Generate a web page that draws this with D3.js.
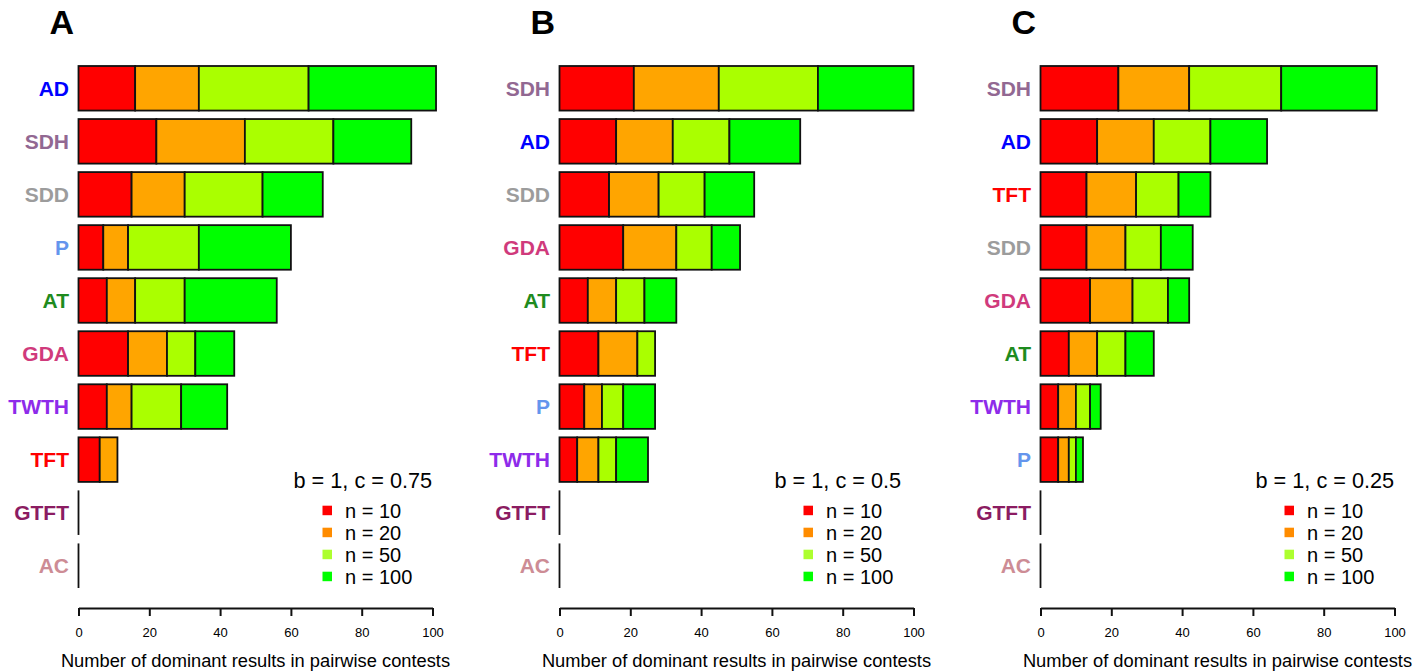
<!DOCTYPE html>
<html>
<head>
<meta charset="utf-8">
<script src="https://d3js.org/d3.v7.min.js"></script>
<style>
	body{margin:0;background:#fff;}
	text{font-family:"Liberation Sans",Arial,sans-serif;}
</style>
</head>
<body>
<script>
// series order inside each stacked bar
const seriesNames = ["n = 10","n = 20","n = 50","n = 100"];
const barColors = ["#ff0000","#ffa500","#aaff00","#00ff00"];
const legendColors = ["#ff0000","#ff8c00","#adff2f","#00ff00"];

const panelLetters = ["A","B","C"];
const panelParams = ["b = 1, c = 0.75","b = 1, c = 0.5","b = 1, c = 0.25"];
const xTicks = [0,20,40,60,80,100];

// panel A (c = 0.75)
const catsA = ["AD","SDH","SDD","P","AT","GDA","TWTH","TFT","GTFT","AC"];
const n10A  = [16,22,15,7,8,14,8,6,0,0];
const n20A  = [18,25,15,7,8,11,7,5,0,0];
const n50A  = [31,25,22,20,14,8,14,0,0,0];
const n100A = [36,22,17,26,26,11,13,0,0,0];

// panel B (c = 0.5)
const catsB = ["SDH","AD","SDD","GDA","AT","TFT","P","TWTH","GTFT","AC"];
const n10B  = [21,16,14,18,8,11,7,5,0,0];
const n20B  = [24,16,14,15,8,11,5,6,0,0];
const n50B  = [28,16,13,10,8,5,6,5,0,0];
const n100B = [27,20,14,8,9,0,9,9,0,0];

// panel C (c = 0.25)
const catsC = ["SDH","AD","TFT","SDD","GDA","AT","TWTH","P","GTFT","AC"];
const n10C  = [22,16,13,13,14,8,5,5,0,0];
const n20C  = [20,16,14,11,12,8,5,3,0,0];
const n50C  = [26,16,12,10,10,8,4,2,0,0];
const n100C = [27,16,9,9,6,8,3,2,0,0];

// label colour for every strategy
const labelColor = {
	AD:"#0000ff", SDH:"#926892", SDD:"#9c9c9c", P:"#6495ed", AT:"#1e8b1e",
	GDA:"#d03a7c", TWTH:"#8e2bea", TFT:"#ff0000", GTFT:"#8b1c62", AC:"#cd8c95"
};

const panels = [
	{cats:catsA, series:[n10A,n20A,n50A,n100A]},
	{cats:catsB, series:[n10B,n20B,n50B,n100B]},
	{cats:catsC, series:[n10C,n20C,n50C,n100C]}
];

const width = 1428;
const height = 672;

let svg = d3.select("body")
	.append("svg")
	.attr("width",width)
	.attr("height",height);

panels.forEach(function(p,i){
	const x0 = 78.5 + i*481;
	const x1 = x0 + 354;

	let xScale = d3.scaleLinear()
		.domain([0,100])
		.range([x0,x1]);
	let yScale = d3.scaleBand()
		.domain(p.cats)
		.range([66,588])
		.paddingInner(0.16)
		.paddingOuter(0);

	let g = svg.append("g");

	// panel letter
	g.append("text")
		.attr("x",x0-29)
		.attr("y",34)
		.attr("font-size",34)
		.attr("font-weight","bold")
		.text(panelLetters[i]);

	// stack rows
	let rows = p.cats.map(function(c,j){
		let start = 0;
		let segs = p.series.map(function(s,k){
			let seg = {cat:c,k:k,x:start,v:s[j]};
			start += s[j];
			return seg;
		});
		return {cat:c,total:start,segs:segs};
	});

	let row = g.selectAll(".row")
		.data(rows)
		.enter().append("g")
		.attr("class","row");

	row.selectAll("rect")
		.data(function(d){return d.segs.filter(function(s){return s.v>0;});})
		.enter().append("rect")
			.attr("x",function(d){return xScale(d.x);})
			.attr("y",function(d){return yScale(d.cat);})
			.attr("width",function(d){return xScale(d.x+d.v)-xScale(d.x);})
			.attr("height",yScale.bandwidth())
			.attr("fill",function(d){return barColors[d.k];})
			.attr("stroke","#111")
			.attr("stroke-width",1.8);

	// empty bars still show their outline as a line at zero
	row.filter(function(d){return d.total===0;})
		.append("line")
			.attr("x1",xScale(0)).attr("x2",xScale(0))
			.attr("y1",function(d){return yScale(d.cat);})
			.attr("y2",function(d){return yScale(d.cat)+yScale.bandwidth();})
			.attr("stroke","#111")
			.attr("stroke-width",1.8);

	// strategy labels
	row.append("text")
		.attr("x",x0-9.5)
		.attr("y",function(d){return yScale(d.cat)+yScale.bandwidth()/2;})
		.attr("dy","0.36em")
		.attr("text-anchor","end")
		.attr("font-size",21)
		.attr("font-weight","bold")
		.attr("fill",function(d){return labelColor[d.cat];})
		.text(function(d){return d.cat;});

	// x axis
	let axis = g.append("g")
		.attr("transform","translate(0,608)")
		.call(d3.axisBottom(xScale)
			.tickValues(xTicks)
			.tickSize(8)
			.tickSizeOuter(0)
			.tickPadding(12));
	axis.select(".domain").attr("stroke","#111").attr("stroke-width",2);
	axis.selectAll(".tick line").attr("stroke","#111").attr("stroke-width",2);
	axis.selectAll(".tick text")
		.attr("font-size",13)
		.attr("font-family","Liberation Sans, Arial, sans-serif")
		.attr("fill","#000");

	g.append("text")
		.attr("x",(x0+x1)/2)
		.attr("y",667)
		.attr("text-anchor","middle")
		.attr("font-size",18.3)
		.text("Number of dominant results in pairwise contests");

	// legend
	let lg = g.append("g")
		.attr("transform","translate("+(x0+215)+",0)");
	lg.append("text")
		.attr("x",0)
		.attr("y",488)
		.attr("font-size",21.7)
		.text(panelParams[i]);
	let item = lg.selectAll(".item")
		.data(seriesNames)
		.enter().append("g")
		.attr("class","item")
		.attr("transform",function(d,k){return "translate(0,"+(k*22)+")";});
	item.append("rect")
		.attr("x",29)
		.attr("y",505.7)
		.attr("width",9.5)
		.attr("height",9.5)
		.attr("fill",function(d,k){return legendColors[k];});
	item.append("text")
		.attr("x",51.5)
		.attr("y",517.7)
		.attr("font-size",20)
		.text(function(d){return d;});
});
</script>
</body>
</html>
